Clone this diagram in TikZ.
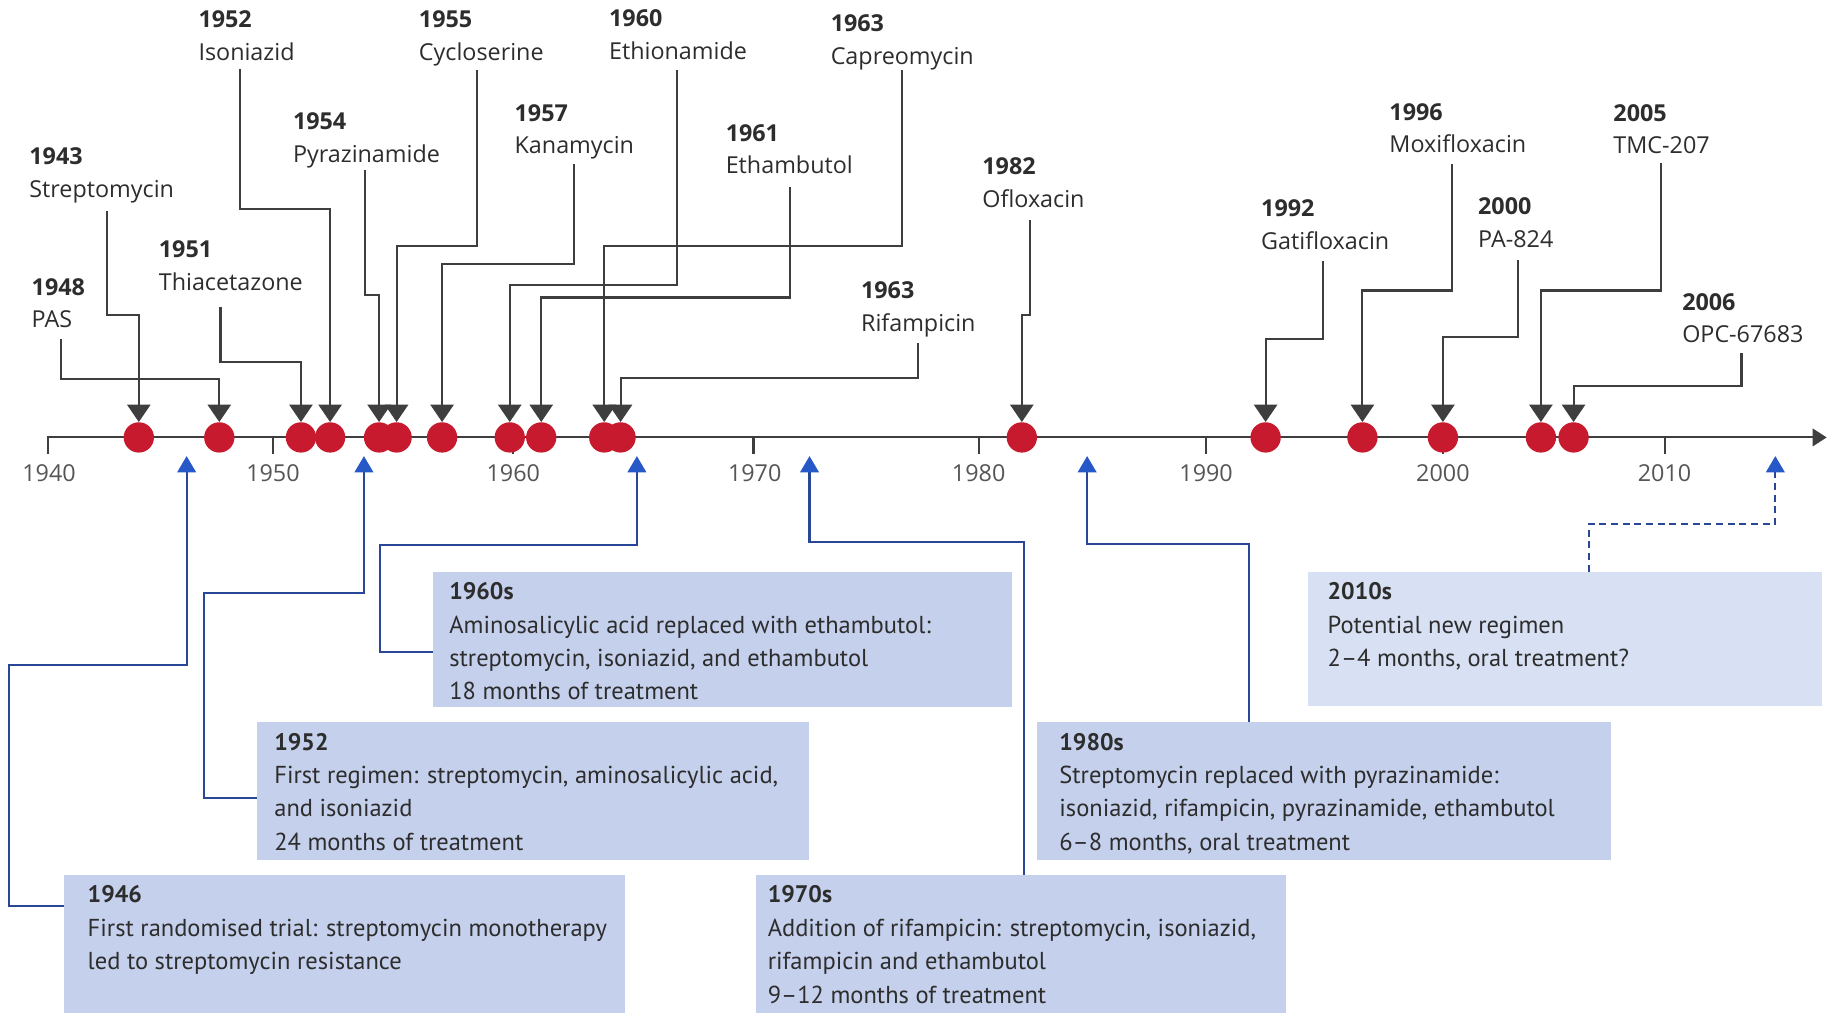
\documentclass[tikz,border=0pt]{standalone}
\usepackage{fontspec}
\setmainfont{Open Sans}
\newfontfamily\boxfont{PT Sans}
\usetikzlibrary{arrows.meta,calc}
\definecolor{dotred}{RGB}{200,26,46}
\definecolor{arrgray}{RGB}{62,62,62}
\definecolor{txtgray}{RGB}{45,45,45}
\definecolor{tickgray}{RGB}{85,85,85}
\definecolor{lineblue}{RGB}{42,70,150}
\definecolor{tipblue}{RGB}{38,88,200}
\definecolor{boxblue}{RGB}{197,208,236}
\definecolor{boxlight}{RGB}{216,225,243}
\begin{document}
\begin{tikzpicture}[x=1pt,y=-1pt,
  dot/.style={circle, fill=dotred, minimum size=26pt, inner sep=0pt},
  darr/.style={draw=arrgray, line width=1.8pt, -{Triangle[width=20pt,length=15pt]}},
  barr/.style={draw=lineblue, line width=1.8pt, -{Triangle[width=16pt,length=14pt,color=tipblue]}},
  axisline/.style={draw=arrgray, line width=1.8pt},
  yr/.style={font=\fontsize{20}{24}\selectfont\bfseries, text=txtgray, anchor=base west, inner sep=0pt},
  drug/.style={font=\fontsize{20}{24}\selectfont, text=txtgray, anchor=base west, inner sep=0pt},
  ticklbl/.style={font=\fontsize{20}{24}\selectfont, text=tickgray, anchor=base, inner sep=0pt},
  regbox/.style={fill=boxblue, anchor=north west, inner sep=0pt},
  byr/.style={font=\boxfont\fontsize{20.5}{24}\selectfont\bfseries, text=txtgray, anchor=base west, inner sep=0pt},
  btx/.style={font=\boxfont\fontsize{21}{24}\selectfont, text=txtgray, anchor=base west, inner sep=0pt}
]
\useasboundingbox (0,0) rectangle (1568,868);
\fill[white] (0,0) rectangle (1568,868);

% ---------- regimen boxes ----------
\node[regbox, minimum width=496pt, minimum height=116pt] (b60) at (371,490) {};
\node[regbox, fill=boxlight, minimum width=441pt, minimum height=115pt] (b10) at (1121,490) {};
\node[regbox, minimum width=473pt, minimum height=118pt] (b52) at (220,619) {};
\node[regbox, minimum width=492pt, minimum height=118pt] (b80) at (889,619) {};
\node[regbox, minimum width=481pt, minimum height=118pt] (b46) at (55,750) {};
\node[regbox, minimum width=454pt, minimum height=118pt] (b70) at (648,750) {};

% ---------- axis ----------
\coordinate (ax0) at (41,389);
\coordinate (ax1) at (1566,375);
\draw[axisline, -{Triangle[width=15pt,length=12pt]}] (ax0) |- (ax1);
\foreach \x in {234,440,646,839,1034,1237,1427} \draw[axisline] (\x,375) -- (\x,389);
\node[ticklbl] (tk40) at (42,413) {1940};
\node[ticklbl] (tk50) at (234,413) {1950};
\node[ticklbl] (tk60) at (440,413) {1960};
\node[ticklbl] (tk70) at (647,413) {1970};
\node[ticklbl] (tk80) at (839,413) {1980};
\node[ticklbl] (tk90) at (1034,413) {1990};
\node[ticklbl] (tk00) at (1237,413) {2000};
\node[ticklbl] (tk10) at (1427,413) {2010};

% ---------- dots ----------
\node[dot] (d43) at (119,375) {};
\node[dot] (d48) at (188,375) {};
\node[dot] (d51) at (258,375) {};
\node[dot] (d52) at (283,375) {};
\node[dot] (d54) at (325,375) {};
\node[dot] (d55) at (340,375) {};
\node[dot] (d57) at (379,375) {};
\node[dot] (d60) at (437,375) {};
\node[dot] (d61) at (464,375) {};
\node[dot] (d63a) at (518,375) {};
\node[dot] (d63b) at (532,375) {};
\node[dot] (d82) at (876,375) {};
\node[dot] (d92) at (1085,375) {};
\node[dot] (d96) at (1168,375) {};
\node[dot] (d00) at (1237,375) {};
\node[dot] (d05) at (1321,375) {};
\node[dot] (d06) at (1349,375) {};

% ---------- drug labels ----------
\node[yr] (y43) at (25,141) {1943};   \node[drug] (n43) at (25,169) {Streptomycin};
\node[yr] (y48) at (27,253) {1948};   \node[drug] (n48) at (27,281) {PAS};
\node[yr] (y51) at (136,221) {1951};  \node[drug] (n51) at (136,249) {Thiacetazone};
\node[yr] (y52) at (170,24) {1952};   \node[drug] (n52) at (170,52) {Isoniazid};
\node[yr] (y54) at (251,111) {1954};  \node[drug] (n54) at (251,139) {Pyrazinamide};
\node[yr] (y55) at (359,24) {1955};   \node[drug] (n55) at (359,52) {Cycloserine};
\node[yr] (y57) at (441,104) {1957};  \node[drug] (n57) at (441,132) {Kanamycin};
\node[yr] (y60) at (522,23) {1960};   \node[drug] (n60) at (522,51) {Ethionamide};
\node[yr] (y61) at (622,121) {1961};  \node[drug] (n61) at (622,149) {Ethambutol};
\node[yr] (y63a) at (712,27) {1963};  \node[drug] (n63a) at (712,55) {Capreomycin};
\node[yr] (y63b) at (738,256) {1963}; \node[drug] (n63b) at (738,284) {Rifampicin};
\node[yr] (y82) at (842,150) {1982};  \node[drug] (n82) at (842,178) {Ofloxacin};
\node[yr] (y92) at (1081,186) {1992}; \node[drug] (n92) at (1081,214) {Gatifloxacin};
\node[yr] (y96) at (1191,103) {1996}; \node[drug] (n96) at (1191,131) {Moxifloxacin};
\node[yr] (y00) at (1267,184) {2000}; \node[drug] (n00) at (1267,212) {PA-824};
\node[yr] (y05) at (1383,104) {2005}; \node[drug] (n05) at (1383,132) {TMC-207};
\node[yr] (y06) at (1442,266) {2006}; \node[drug] (n06) at (1442,294) {OPC-67683};

% ---------- drug connectors ----------
\coordinate (s43) at (92,181);    \coordinate (h43) at (0,270);
\coordinate (s48) at (52,291);    \coordinate (h48) at (0,325);
\coordinate (s51) at (189,263);   \coordinate (h51) at (0,310);
\coordinate (s52) at (206,59);    \coordinate (h52) at (0,179);
\coordinate (s54) at (313,146);   \coordinate (h54) at (0,253);
\coordinate (s55) at (409,60);    \coordinate (h55) at (0,211);
\coordinate (s57) at (492,141);   \coordinate (h57) at (0,226);
\coordinate (s60) at (580,60);    \coordinate (h60) at (0,244);
\coordinate (s61) at (677,160);   \coordinate (h61) at (0,255);
\coordinate (s63a) at (773,60);   \coordinate (h63a) at (0,211);
\coordinate (s63b) at (787,294);  \coordinate (h63b) at (0,324);
\coordinate (s82) at (883,189);   \coordinate (h82) at (0,270);
\coordinate (s92) at (1134,224);  \coordinate (h92) at (0,291);
\coordinate (s96) at (1245,141);  \coordinate (h96) at (0,249);
\coordinate (s00) at (1301,223);  \coordinate (h00) at (0,289);
\coordinate (s05) at (1424,140);  \coordinate (h05) at (0,249);
\coordinate (s06) at (1493,303);  \coordinate (h06) at (0,331);
\foreach \k in {43,48,51,52,54,55,57,60,61,63a,63b,82,92,96,00,05,06}
  \draw[darr] (s\k) |- (h\k -| d\k) -- (d\k.north);

% ---------- regimen connectors ----------
\coordinate (k46) at (8,570);    \coordinate (t46) at (160,391);
\coordinate (k52) at (175,508);  \coordinate (t52) at (312,391);
\coordinate (k60) at (326,467);  \coordinate (t60) at (546,391);
\coordinate (k70) at (694,465);  \coordinate (t70) at (694,391);
\coordinate (k80) at (932,466);  \coordinate (t80) at (932,391);
\coordinate (k10) at (1522,449); \coordinate (t10) at (1522,391);
\draw[barr] ($(b46.north west)+(0,27)$) -| (k46) -| (t46);
\draw[barr] ($(b52.north west)+(0,65)$) -| (k52) -| (t52);
\draw[barr] ($(b60.north west)+(0,69)$) -| (k60) -| (t60);
\draw[barr] ($(b70.north west)+(230,0)$) |- (k70) -- (t70);
\draw[barr] ($(b80.north west)+(182,0)$) |- (k80) -- (t80);
\draw[barr, dash pattern=on 6pt off 4pt] ($(b10.north west)+(241,0)$) |- (k10) -- (t10);

% ---------- regimen texts ----------
\node[byr] (r46a) at (75,774) {1946};
\node[btx] (r46b) at (75,803) {First randomised trial: streptomycin monotherapy};
\node[btx] (r46c) at (75,831) {led to streptomycin resistance};

\node[byr] (r52a) at (235,643) {1952};
\node[btx] (r52b) at (235,672) {First regimen: streptomycin, aminosalicylic acid,};
\node[btx] (r52c) at (235,700) {and isoniazid};
\node[btx] (r52d) at (235,729) {24 months of treatment};

\node[byr] (r60a) at (385,514) {1960s};
\node[btx] (r60b) at (385,543) {Aminosalicylic acid replaced with ethambutol:};
\node[btx] (r60c) at (385,571) {streptomycin, isoniazid, and ethambutol};
\node[btx] (r60d) at (385,600) {18 months of treatment};

\node[byr] (r70a) at (658,774) {1970s};
\node[btx] (r70b) at (658,803) {Addition of rifampicin: streptomycin, isoniazid,};
\node[btx] (r70c) at (658,831) {rifampicin and ethambutol};
\node[btx] (r70d) at (658,860) {9–12 months of treatment};

\node[byr] (r80a) at (908,643) {1980s};
\node[btx] (r80b) at (908,672) {Streptomycin replaced with pyrazinamide:};
\node[btx] (r80c) at (908,700) {isoniazid, rifampicin, pyrazinamide, ethambutol};
\node[btx] (r80d) at (908,729) {6–8 months, oral treatment};

\node[byr] (r10a) at (1138,514) {2010s};
\node[btx] (r10b) at (1138,543) {Potential new regimen};
\node[btx] (r10c) at (1138,571) {2–4 months, oral treatment?};
\end{tikzpicture}
\end{document}
